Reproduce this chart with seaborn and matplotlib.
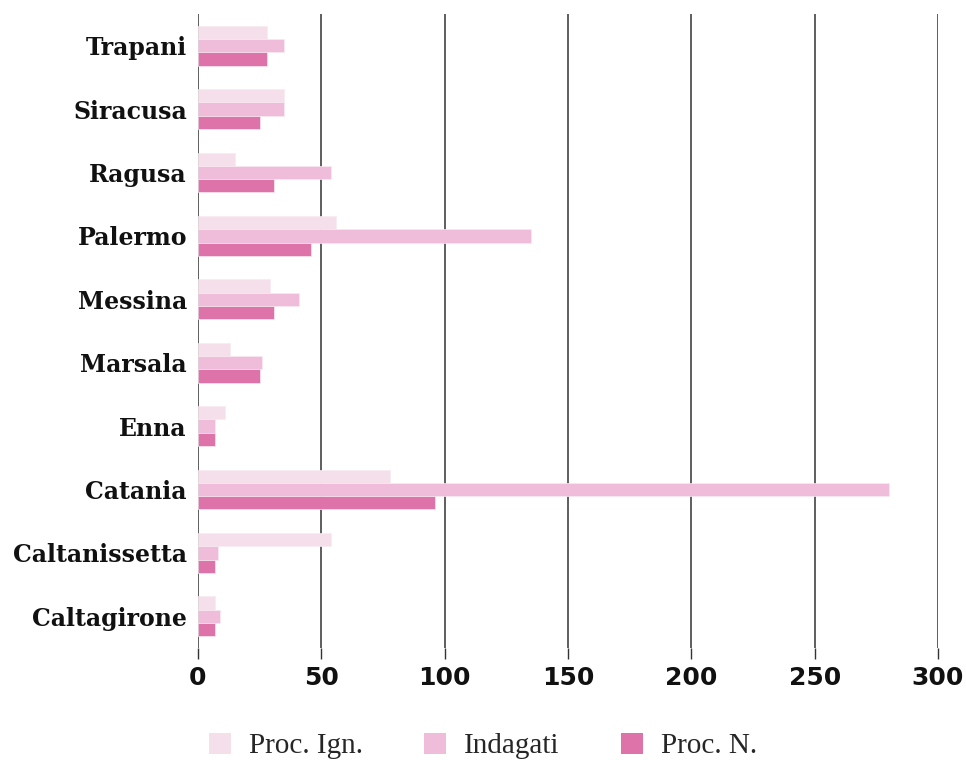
import matplotlib
matplotlib.use("Agg")
import matplotlib.pyplot as plt
import seaborn as sns
import pandas as pd
from matplotlib.patches import Patch

categories = ["Trapani", "Siracusa", "Ragusa", "Palermo", "Messina", "Marsala",
              "Enna", "Catania", "Caltanissetta", "Caltagirone"]
series = ["Proc. Ign.", "Indagati", "Proc. N."]
proc_ign = [28, 35, 15, 56, 29, 13, 11, 78, 54, 7]
indagati = [35, 35, 54, 135, 41, 26, 7, 280, 8, 9]
proc_n = [28, 25, 31, 46, 31, 25, 7, 96, 7, 7]
xticks = [0, 50, 100, 150, 200, 250, 300]
colors = ["#f5dfeb", "#efbdd9", "#de73aa"]

rows = []
for s, vals in zip(series, [proc_ign, indagati, proc_n]):
    for c, v in zip(categories, vals):
        rows.append({"city": c, "serie": s, "value": v})
df = pd.DataFrame(rows)

sns.set_style("white")
fig = plt.figure(figsize=(9.66, 7.6), dpi=100)
ax = fig.add_axes([198/966, 1 - 648/760, (938-198)/966, (648-14)/760])

sns.barplot(data=df, y="city", x="value", hue="serie", order=categories,
            hue_order=series, palette=colors, saturation=1, width=0.63, orient="h",
            edgecolor="#f8eaf2", linewidth=0.5, ax=ax, legend=False, zorder=3)

ax.set_xlim(0, 300)
ax.set_ylim(9.5, -0.5)
ax.set_xticks(xticks)
ax.set_xticklabels([str(t) for t in xticks])
ax.grid(axis="x", color="#333333", linewidth=1.1, zorder=0)
ax.set_axisbelow(True)
for sp in ax.spines.values():
    sp.set_visible(False)
ax.set_xlabel("")
ax.set_ylabel("")
ax.tick_params(axis="x", length=8, width=1, color="#333333", pad=5, bottom=True)
ax.tick_params(axis="y", length=0, pad=8)
for lab in ax.get_xticklabels():
    lab.set_fontfamily("DejaVu Sans")
    lab.set_fontweight("bold")
    lab.set_fontsize(18)
    lab.set_color("#111111")
for lab in ax.get_yticklabels():
    lab.set_fontfamily("DejaVu Serif")
    lab.set_fontweight("bold")
    lab.set_fontsize(17)
    lab.set_color("#111111")
    lab.set_verticalalignment("center_baseline")

handles = [Patch(facecolor=c, edgecolor="none") for c in colors]
fig.legend(handles, series, loc="center", bbox_to_anchor=(0.5, 14/760),
           ncol=3, frameon=False, prop={"family": "Liberation Serif", "size": 21},
           handlelength=0.75, handleheight=0.75, columnspacing=2.1, handletextpad=0.62,
           borderpad=0.2)

fig.savefig("out.png", dpi=100)
